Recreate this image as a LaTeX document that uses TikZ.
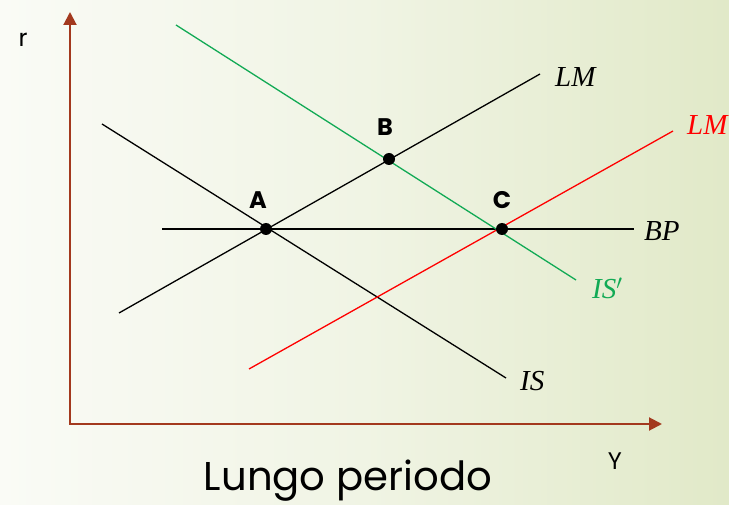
\documentclass[tikz,border=0pt]{standalone}
\usepackage{fontspec}
\setmainfont{Poppins}
\newfontfamily\eqfont{Liberation Serif}
\usetikzlibrary{arrows.meta}
\definecolor{axisc}{HTML}{A3391E}
\definecolor{isgreen}{HTML}{12AA55}
\definecolor{bgleft}{HTML}{FAFBF6}
\definecolor{bgmid}{HTML}{F0F4E4}
\definecolor{bgright}{HTML}{E1E9C8}
\begin{document}
\begin{tikzpicture}[x=1pt,y=-1pt,
  axisline/.style={draw=axisc, line width=2pt, line join=miter,
    {Triangle[width=13pt,length=13pt]}-{Triangle[width=13pt,length=13pt]}},
  curve/.style={line width=1.3pt},
  dot/.style={circle, fill=black, inner sep=0pt, minimum size=12pt},
  ptlab/.style={font=\fontsize{24}{26}\selectfont\bfseries, inner sep=0pt},
  eqlab/.style={font=\fontsize{29}{31}\selectfont\eqfont\itshape, inner sep=0pt, anchor=west},
  axlab/.style={font=\fontsize{24}{26}\selectfont, inner sep=0pt}]
\useasboundingbox (0,0) rectangle (729,505);
\clip (0,0) rectangle (729,505);
\shade[left color=bgleft, right color=bgright, middle color=bgmid] (0,0) rectangle (729,505);

% axes
\coordinate (ytip) at (70,12);
\coordinate (O) at (70,424);
\coordinate (xtip) at (662,424);
\draw[axisline] (ytip) -- (O) -- (xtip);

% curve end points
\coordinate (is1) at (102,124);  \coordinate (is2) at (506,378);
\coordinate (lm1) at (119,313);  \coordinate (lm2) at (540,74);
\coordinate (bp1) at (162,229);  \coordinate (bp2) at (634,229);
\coordinate (isp1) at (176,25);  \coordinate (isp2) at (576,280);
\coordinate (lmp1) at (249,369); \coordinate (lmp2) at (673,131);

\draw[curve] (is1) -- (is2);
\draw[curve] (lm1) -- (lm2);
\draw[curve] (bp1) -- (bp2);
\draw[curve, isgreen] (isp1) -- (isp2);
\draw[curve, red] (lmp1) -- (lmp2);

% equilibrium points
\node[dot] (A) at (266,229) {};
\node[dot] (B) at (389,159) {};
\node[dot] (C) at (502,229) {};
\node[ptlab] (Alab) at (258,200) {A};
\node[ptlab] (Blab) at (385,127) {B};
\node[ptlab] (Clab) at (502,200) {C};

% curve labels
\node[eqlab] (LMlab) at (555,77) {LM};
\node[eqlab, red] (LMplab) at (687,125) {LM};
\node[eqlab] (BPlab) at (644,231) {BP};
\node[eqlab, isgreen] (ISplab) at (592,288) {IS$'$};
\node[eqlab] (ISlab) at (520,381) {IS};

% axis labels and title
\node[axlab] (rlab) at (23,40) {r};
\node[axlab] (Ylab) at (615,461) {Y};
\node[inner sep=0pt] (title) at (348,481) {\resizebox{288pt}{!}{\fontsize{34}{36}\selectfont Lungo periodo}};
\end{tikzpicture}
\end{document}
